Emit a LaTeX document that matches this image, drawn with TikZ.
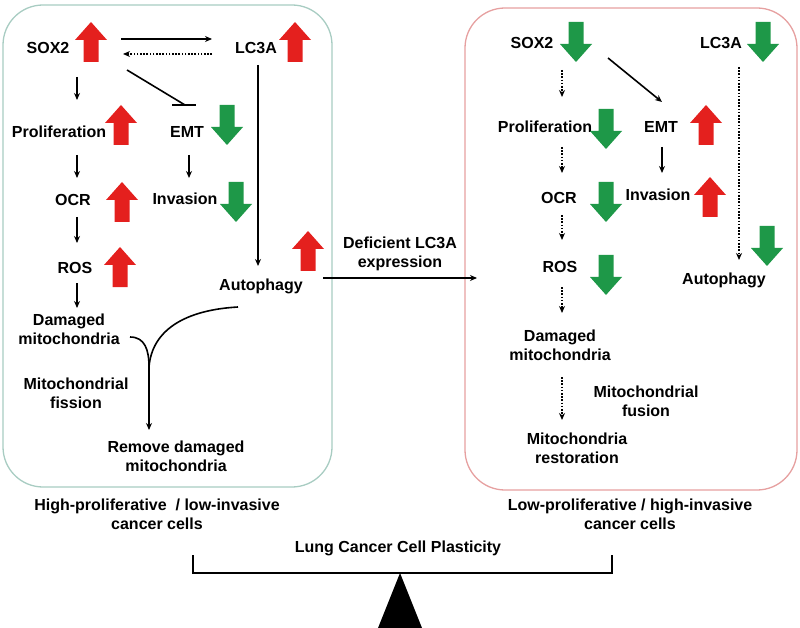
\documentclass[tikz,border=0pt]{standalone}
\usepackage{fontspec}
\setmainfont{Liberation Sans}
\usetikzlibrary{arrows.meta}
\definecolor{upred}{RGB}{228,32,30}
\definecolor{dngreen}{RGB}{30,152,72}
\definecolor{lbox}{RGB}{168,204,194}
\definecolor{rbox}{RGB}{230,160,160}
\tikzset{
  lbl/.style={font=\bfseries\fontsize{16}{19}\selectfont, align=center, inner sep=0pt},
  arr/.style={line width=1.6pt, -{Stealth[length=7pt,width=6pt]}},
  dotarr/.style={line width=1.6pt, dash pattern=on 1.6pt off 1.6pt, -{Stealth[length=7pt,width=6pt]}},
  plain/.style={line width=1.6pt},
  upbig/.pic={\fill[upred] (0,-20) -- (16,-2) -- (7.5,-2) -- (7.5,20) -- (-7.5,20) -- (-7.5,-2) -- (-16,-2) -- cycle;},
  dnbig/.pic={\fill[dngreen] (0,20) -- (16,2) -- (7.5,2) -- (7.5,-20) -- (-7.5,-20) -- (-7.5,2) -- (-16,2) -- cycle;}
}
\begin{document}
\begin{tikzpicture}[x=1pt,y=-1pt]
\useasboundingbox (0,0) rectangle (800,628);
% boxes
\draw[lbox, line width=1.3pt, rounded corners=40pt] (3,5) rectangle (332,487);
\draw[rbox, line width=1.3pt, rounded corners=40pt] (465,8) rectangle (797,490);

% ---------- left box ----------
\node[lbl] (Lsox) at (48,48) {SOX2};
\node[lbl] (Llc) at (256,48) {LC3A};
\node[lbl] (Lpro) at (59,132) {Proliferation};
\node[lbl] (Lemt) at (187,132) {EMT};
\node[lbl] (Locr) at (73,200) {OCR};
\node[lbl] (Linv) at (185,199) {Invasion};
\node[lbl] (Lros) at (75,268) {ROS};
\node[lbl] (Laut) at (261,286) {Autophagy};
\node[lbl] (Ldam) at (69,329) {Damaged\\mitochondria};
\node[lbl] (Lfis) at (76,393) {Mitochondrial\\fission};
\node[lbl] (Lrem) at (176,456) {Remove damaged\\mitochondria};

\pic at (91,42) {upbig};
\pic at (295,42) {upbig};
\pic at (121,125) {upbig};
\pic at (122,202) {upbig};
\pic at (120,267) {upbig};
\pic at (308,251) {upbig};
\pic at (227,125) {dnbig};
\pic at (236,202) {dnbig};

\coordinate (Ls1) at (121,39); \coordinate (Ll1) at (212,39);
\coordinate (Ll2) at (212,54); \coordinate (Ls2) at (123,54);
\coordinate (Ls3) at (77,77); \coordinate (Lp1) at (77,100);
\coordinate (Ls4) at (127,70); \coordinate (Le1) at (185,105);
\coordinate (Lb1) at (172,105); \coordinate (Lb2) at (196,105);
\coordinate (Lp2) at (77,155); \coordinate (Lo1) at (77,178);
\coordinate (Le2) at (189,155); \coordinate (Li1) at (189,178);
\coordinate (Lo2) at (77,217); \coordinate (Lr1) at (77,243);
\coordinate (Lr2) at (77,283); \coordinate (Ld1) at (77,308);
\coordinate (Ll3) at (258,65); \coordinate (La1) at (258,266);
\coordinate (Ld2) at (130,337); \coordinate (La2) at (238,307);
\coordinate (Lm) at (149,367); \coordinate (Lrm) at (149,430);

\draw[arr] (Ls1) -- (Ll1);
\draw[dotarr] (Ll2) -- (Ls2);
\draw[arr] (Ls3) -- (Lp1);
\draw[plain] (Ls4) -- (Le1);
\draw[plain] (Lb1) -- (Lb2);
\draw[arr] (Lp2) -- (Lo1);
\draw[arr] (Le2) -- (Li1);
\draw[arr] (Lo2) -- (Lr1);
\draw[arr] (Lr2) -- (Ld1);
\draw[arr] (Ll3) -- (La1);
\draw[plain] (Ld2) .. controls (145,337) and (149,350) .. (Lm);
\draw[plain] (La2) .. controls (185,310) and (152,330) .. (Lm);
\draw[arr] (Lm) -- (Lrm);

% ---------- middle ----------
\node[lbl] (def) at (400,254) {Deficient LC3A\\expression};
\coordinate (M1) at (323,278); \coordinate (M2) at (477,278);
\draw[arr] (M1) -- (M2);

% ---------- right box ----------
\node[lbl] (Rsox) at (532,43) {SOX2};
\node[lbl] (Rlc) at (721,43) {LC3A};
\node[lbl] (Rpro) at (545,127) {Proliferation};
\node[lbl] (Remt) at (661,127) {EMT};
\node[lbl] (Rocr) at (559,198) {OCR};
\node[lbl] (Rinv) at (658,195) {Invasion};
\node[lbl] (Rros) at (560,267) {ROS};
\node[lbl] (Raut) at (724,280) {Autophagy};
\node[lbl] (Rdam) at (560,345) {Damaged\\mitochondria};
\node[lbl] (Rfus) at (646,401) {Mitochondrial\\fusion};
\node[lbl] (Rres) at (577,448) {Mitochondria\\restoration};

\pic at (576,42) {dnbig};
\pic at (763,42) {dnbig};
\pic at (606,129) {dnbig};
\pic at (606,202) {dnbig};
\pic at (606,275) {dnbig};
\pic at (767,246) {dnbig};
\pic at (706,125) {upbig};
\pic at (710,197) {upbig};

\coordinate (Rs1) at (562,70); \coordinate (Rp1) at (562,97);
\coordinate (Rs2) at (608,58); \coordinate (Re1) at (662,102);
\coordinate (Rp2) at (562,147); \coordinate (Ro1) at (562,173);
\coordinate (Re2) at (662,147); \coordinate (Ri1) at (662,173);
\coordinate (Ro2) at (562,215); \coordinate (Rr1) at (562,240);
\coordinate (Rl1) at (739,67); \coordinate (Ra1) at (739,260);
\coordinate (Rr2) at (562,287); \coordinate (Rd1) at (562,313);
\coordinate (Rd2) at (562,377); \coordinate (Rm1) at (562,420);

\draw[dotarr] (Rs1) -- (Rp1);
\draw[arr] (Rs2) -- (Re1);
\draw[dotarr] (Rp2) -- (Ro1);
\draw[arr] (Re2) -- (Ri1);
\draw[dotarr] (Ro2) -- (Rr1);
\draw[dotarr] (Rl1) -- (Ra1);
\draw[dotarr] (Rr2) -- (Rd1);
\draw[dotarr] (Rd2) -- (Rm1);

% ---------- bottom ----------
\node[lbl] (hi) at (157,514) {High-proliferative~ / low-invasive\\cancer cells};
\node[lbl] (lo) at (630,514) {Low-proliferative / high-invasive\\cancer cells};
\node[lbl] (lung) at (398,548) {Lung Cancer Cell Plasticity};
\coordinate (B1) at (193,555); \coordinate (B2) at (193,573);
\coordinate (B3) at (612,573); \coordinate (B4) at (612,555);
\draw[line width=2pt] (B1) -- (B2) -- (B3) -- (B4);
\coordinate (T1) at (400,573); \coordinate (T2) at (378,628); \coordinate (T3) at (422,628);
\fill[black] (T1) -- (T2) -- (T3) -- cycle;
\end{tikzpicture}
\end{document}
